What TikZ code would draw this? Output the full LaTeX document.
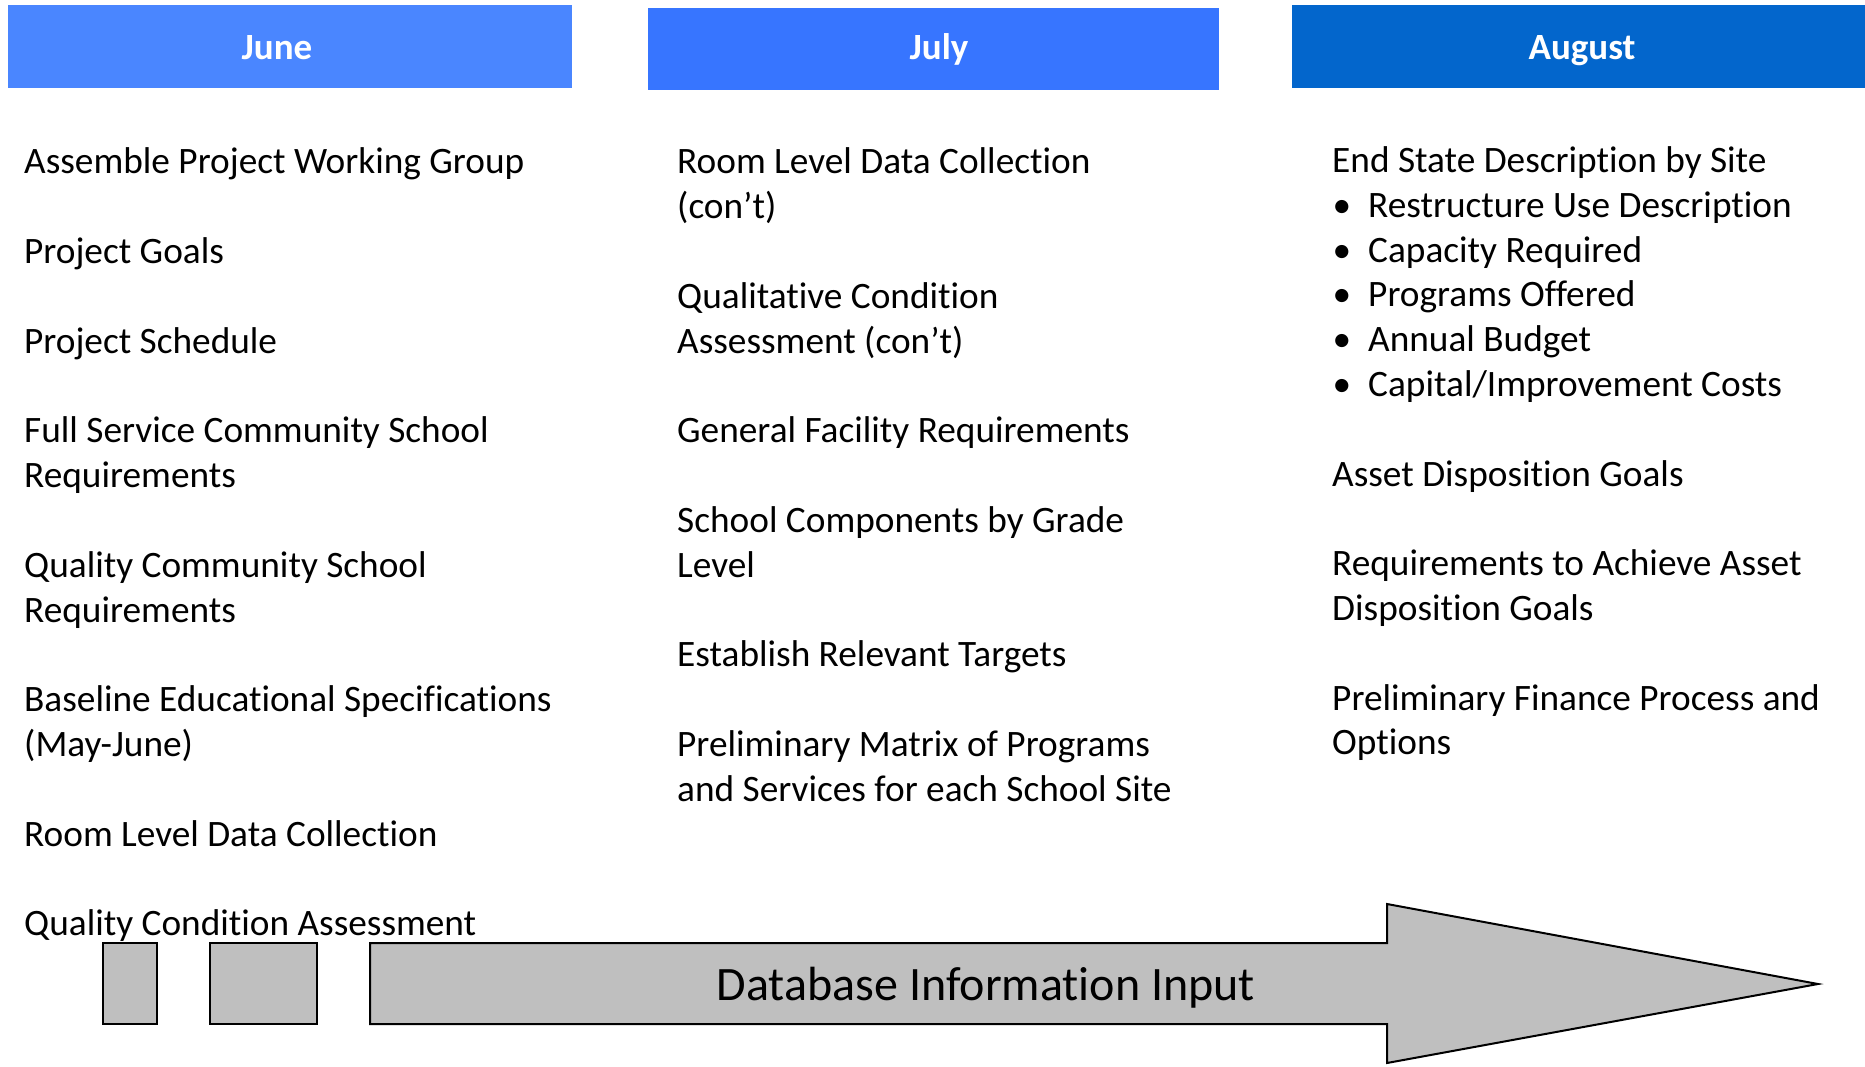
\documentclass[tikz,border=0pt]{standalone}
\usepackage{fontspec}
\setmainfont[Ligatures=NoCommon]{Carlito}
\definecolor{juneblue}{HTML}{4A86FF}
\definecolor{julyblue}{HTML}{3775FF}
\definecolor{augblue}{HTML}{0366CC}
\definecolor{arrowgray}{HTML}{BFBFBF}
\begin{document}
\begin{tikzpicture}[x=1pt,y=-1pt,
  hdrbox/.style={rectangle,inner sep=0pt,draw=none},
  hdrtext/.style={inner sep=0pt,anchor=base,text=white,font=\fontsize{37}{44.8}\selectfont\bfseries},
  item/.style={inner sep=0pt,anchor=base west,align=left,font=\fontsize{37.3}{44.8}\selectfont},
  bul/.style={inner sep=0pt,anchor=base,font=\fontsize{37.3}{44.8}\selectfont},
  graybox/.style={rectangle,inner sep=0pt,draw=black,line width=2pt,fill=arrowgray},
]
\useasboundingbox (0,0) rectangle (1865,1067);
% headers
\node[hdrbox,fill=juneblue,minimum width=564pt,minimum height=83pt] (junebox) at (290,46.5) {};
\node[hdrbox,fill=julyblue,minimum width=571pt,minimum height=82pt] (julybox) at (933.5,49) {};
\node[hdrbox,fill=augblue,minimum width=573pt,minimum height=83pt] (augbox) at (1578.5,46.5) {};
\node[hdrtext] (junet) at (277,60) {June};
\node[hdrtext] (julyt) at (939,60) {July};
\node[hdrtext] (augt) at (1582,60) {August};
% June column (base anchor = baseline of the last line)
\node[item] (j1) at (24,174) {Assemble Project Working Group};
\node[item] (j2) at (24,263.6) {Project Goals};
\node[item] (j3) at (24,353.2) {Project Schedule};
\node[item] (j4) at (24,487.6) {Full Service Community School\\Requirements};
\node[item] (j5) at (24,622) {Quality Community School\\Requirements};
\node[item] (j6) at (24,756.4) {Baseline Educational Specifications\\(May-June)};
\node[item] (j7) at (24,846) {Room Level Data Collection};
\node[item] (j8) at (24,935) {Quality Condition Assessment};
% July column
\node[item] (u1) at (677,218.8) {Room Level Data Collection\\(con’t)};
\node[item] (u2) at (677,353.2) {Qualitative Condition\\Assessment (con’t)};
\node[item] (u3) at (677,442.8) {General Facility Requirements};
\node[item] (u4) at (677,577.2) {School Components by Grade\\Level};
\node[item] (u5) at (677,666.8) {Establish Relevant Targets};
\node[item] (u6) at (677,801.2) {Preliminary Matrix of Programs\\and Services for each School Site};
% August column
\node[item] (a1) at (1332,172.5) {End State Description by Site};
\foreach \t [count=\i] in {Restructure Use Description,Capacity Required,Programs Offered,Annual Budget,Capital/Improvement Costs}{
  \node[bul] (ab\i) at (1342,172.5+44.8*\i) {•};
  \node[item] (at\i) at (1368,172.5+44.8*\i) {\t};
}
\node[item] (a2) at (1332,486.1) {Asset Disposition Goals};
\node[item] (a3) at (1332,620.5) {Requirements to Achieve Asset\\Disposition Goals};
\node[item] (a4) at (1332,754.9) {Preliminary Finance Process and\\Options};
% bottom shapes
\node[graybox,minimum width=54pt,minimum height=81pt] (r1) at (130,983.5) {};
\node[graybox,minimum width=107pt,minimum height=81pt] (r2) at (263.5,983.5) {};
\draw[line width=2pt,fill=arrowgray,line join=miter]
  (370,943) -- (1387,943) -- (1387,904) -- (1818,984) -- (1387,1063) -- (1387,1024) -- (370,1024) -- cycle;
\node[inner sep=0pt,anchor=base,font=\fontsize{48}{56}\selectfont] (dbi) at (986,1000) {Database Information Input};
\end{tikzpicture}
\end{document}
